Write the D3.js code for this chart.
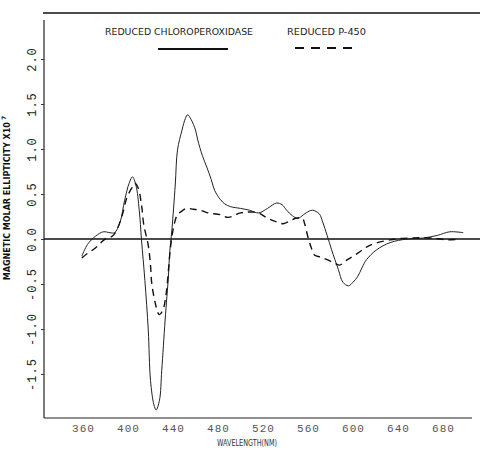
<!DOCTYPE html>
<html>
<head>
<meta charset="utf-8">
<script src="https://cdn.jsdelivr.net/npm/d3@7"></script>
<style>
  html, body { margin: 0; padding: 0; background: #fff; }
  svg { display: block; }
</style>
</head>
<body>
<div id="chart"></div>
<script>
// ---- data ----
const cpoWavelength = [359,364,371,378,384,388,393,397,401,404,407,410,412,415,418,420,423,425,428,430,433,436,437,439,442,444,448,451,453,456,460,462,466,470,474,477,482,486,491,500,508,516,524,532,537,541,546,551,556,561,564,570,573,577,581,587,591,596,600,604,608,612,621,633,648,662,675,686,698];
const cpoValue = [-0.19,-0.06,0.03,0.08,0.07,0.07,0.19,0.43,0.62,0.69,0.60,0.32,-0.01,-0.46,-1.01,-1.57,-1.84,-1.90,-1.79,-1.46,-0.90,-0.40,-0.16,0.10,0.60,0.99,1.21,1.34,1.38,1.33,1.21,1.10,0.93,0.80,0.66,0.54,0.44,0.39,0.36,0.34,0.32,0.29,0.34,0.40,0.38,0.32,0.26,0.23,0.27,0.31,0.32,0.28,0.19,0.04,-0.12,-0.34,-0.48,-0.52,-0.48,-0.42,-0.32,-0.23,-0.12,-0.04,0.00,0.01,0.04,0.08,0.07];

const p450Wavelength = [359,364,371,376,381,386,390,395,399,404,406,409,412,414,418,420,421,424,427,428,431,434,436,438,441,444,449,452,458,464,471,482,489,500,508,516,524,532,538,544,549,555,557,560,563,566,571,577,584,588,595,604,615,633,648,671,684,695];
const p450Value = [-0.21,-0.16,-0.10,-0.04,0.01,0.03,0.10,0.27,0.46,0.58,0.62,0.57,0.38,0.16,-0.07,-0.29,-0.48,-0.70,-0.83,-0.84,-0.79,-0.60,-0.34,-0.07,0.16,0.27,0.32,0.34,0.33,0.32,0.29,0.27,0.24,0.29,0.30,0.29,0.23,0.19,0.17,0.20,0.23,0.23,0.17,0.02,-0.10,-0.18,-0.20,-0.23,-0.27,-0.29,-0.23,-0.16,-0.07,-0.01,0.01,0.01,-0.01,0.00];

const xTickValues = [360,400,440,480,520,560,600,640,680];
const xTickLabels = ["360","400","440","480","520","560","600","640","680"];
const yTickValues = [2.0,1.5,1.0,0.5,0.0,-0.5,-1.0,-1.5];
const yTickLabels = ["2.0","1.5","1.0","0.5","0.0","-0.5","-1.0","-1.5"];

const seriesNames = ["REDUCED CHLOROPEROXIDASE","REDUCED P-450"];
const xTitle = "WAVELENGTH(NM)";
const yTitle = "MAGNETIC MOLAR ELLIPTICITY X10";

// ---- layout ----
const W = 480, H = 449;
const svg = d3.select("#chart").append("svg").attr("width", W).attr("height", H)
  .style("background", "#fff");

const x = d3.scaleLinear().domain([360, 680]).range([83, 443]);
const y = d3.scaleLinear().domain([0, 2]).range([239, 59]);

const axisLeftX = 44, axisBottomY = 418;

// top border line
svg.append("line").attr("x1", 43).attr("x2", 480).attr("y1", 13).attr("y2", 13)
  .attr("stroke", "#111").attr("stroke-width", 1.6);

// y axis line
svg.append("line").attr("x1", axisLeftX).attr("x2", axisLeftX).attr("y1", 20).attr("y2", axisBottomY)
  .attr("stroke", "#222").attr("stroke-width", 1.2);
// x axis line
svg.append("line").attr("x1", axisLeftX).attr("x2", 472).attr("y1", axisBottomY).attr("y2", axisBottomY)
  .attr("stroke", "#222").attr("stroke-width", 1.2);

// y ticks via axis generator (custom labels drawn rotated)
const yAxis = d3.axisLeft(y).tickValues(yTickValues).tickSize(3).tickFormat("");
const gy = svg.append("g").attr("transform", `translate(${axisLeftX},0)`).call(yAxis);
gy.select(".domain").remove();
gy.selectAll(".tick line").attr("stroke", "#333");
gy.selectAll(".tick").append("text")
  .attr("transform", "rotate(-90)")
  .attr("x", 0).attr("y", -11)
  .attr("text-anchor", "middle")
  .attr("dominant-baseline", "central")
  .attr("fill", "#222")
  .style("font-family", "'Liberation Mono', 'DejaVu Sans Mono', monospace")
  .style("font-size", "12px")
  .style("letter-spacing", "1px")
  .text((d, i) => yTickLabels[i]);

// x ticks
const xAxis = d3.axisBottom(x).tickValues(xTickValues).tickSize(0).tickFormat((d, i) => xTickLabels[i]);
const gx = svg.append("g").attr("transform", `translate(0,${axisBottomY})`).call(xAxis);
gx.select(".domain").remove();
gx.selectAll(".tick text")
  .attr("y", 10).attr("dy", "0.32em")
  .attr("fill", "#555")
  .style("font-family", "'Liberation Mono', 'DejaVu Sans Mono', monospace")
  .style("font-size", "11px")
  .style("letter-spacing", "1px");

// zero line
svg.append("line").attr("x1", axisLeftX).attr("x2", 480).attr("y1", y(0)).attr("y2", y(0))
  .attr("stroke", "#111").attr("stroke-width", 1.5);

// axis titles
svg.append("text").attr("x", 247).attr("y", 446).attr("text-anchor", "middle")
  .attr("fill", "#333")
  .style("font-family", "'DejaVu Sans', sans-serif").style("font-size", "8px")
  .attr("textLength", 60).attr("lengthAdjust", "spacingAndGlyphs")
  .text(xTitle);

const yt = svg.append("text")
  .attr("transform", "translate(10,198) rotate(-90)")
  .attr("text-anchor", "middle")
  .attr("fill", "#111")
  .style("font-family", "'DejaVu Sans', sans-serif").style("font-size", "8px").style("font-weight", "bold");
yt.append("tspan").text(yTitle);
yt.append("tspan").attr("dy", -4).style("font-size", "6px").text(" 7");

// legend
const legendFont = "'DejaVu Sans', sans-serif";
svg.append("text").attr("x", 105).attr("y", 35).attr("fill", "#222")
  .style("font-family", legendFont).style("font-size", "9px")
  .attr("textLength", 148).attr("lengthAdjust", "spacingAndGlyphs")
  .text(seriesNames[0]);
svg.append("text").attr("x", 287).attr("y", 35).attr("fill", "#222")
  .style("font-family", legendFont).style("font-size", "9px")
  .attr("textLength", 79).attr("lengthAdjust", "spacingAndGlyphs")
  .text(seriesNames[1]);
svg.append("line").attr("x1", 158).attr("x2", 228).attr("y1", 49).attr("y2", 49)
  .attr("stroke", "#111").attr("stroke-width", 2);
svg.append("line").attr("x1", 295).attr("x2", 356).attr("y1", 48).attr("y2", 48)
  .attr("stroke", "#111").attr("stroke-width", 2).attr("stroke-dasharray", "9,7");

// curves
const line = d3.line().x(d => x(d[0])).y(d => y(d[1])).curve(d3.curveCatmullRom.alpha(0.5));
const cpo = cpoWavelength.map((w, i) => [w, cpoValue[i]]);
const p450 = p450Wavelength.map((w, i) => [w, p450Value[i]]);

svg.append("path").datum(cpo).attr("d", line)
  .attr("fill", "none").attr("stroke", "#222").attr("stroke-width", 1);
svg.append("path").datum(p450).attr("d", line)
  .attr("fill", "none").attr("stroke", "#111").attr("stroke-width", 1.4)
  .attr("stroke-dasharray", "7,5");
</script>
</body>
</html>
